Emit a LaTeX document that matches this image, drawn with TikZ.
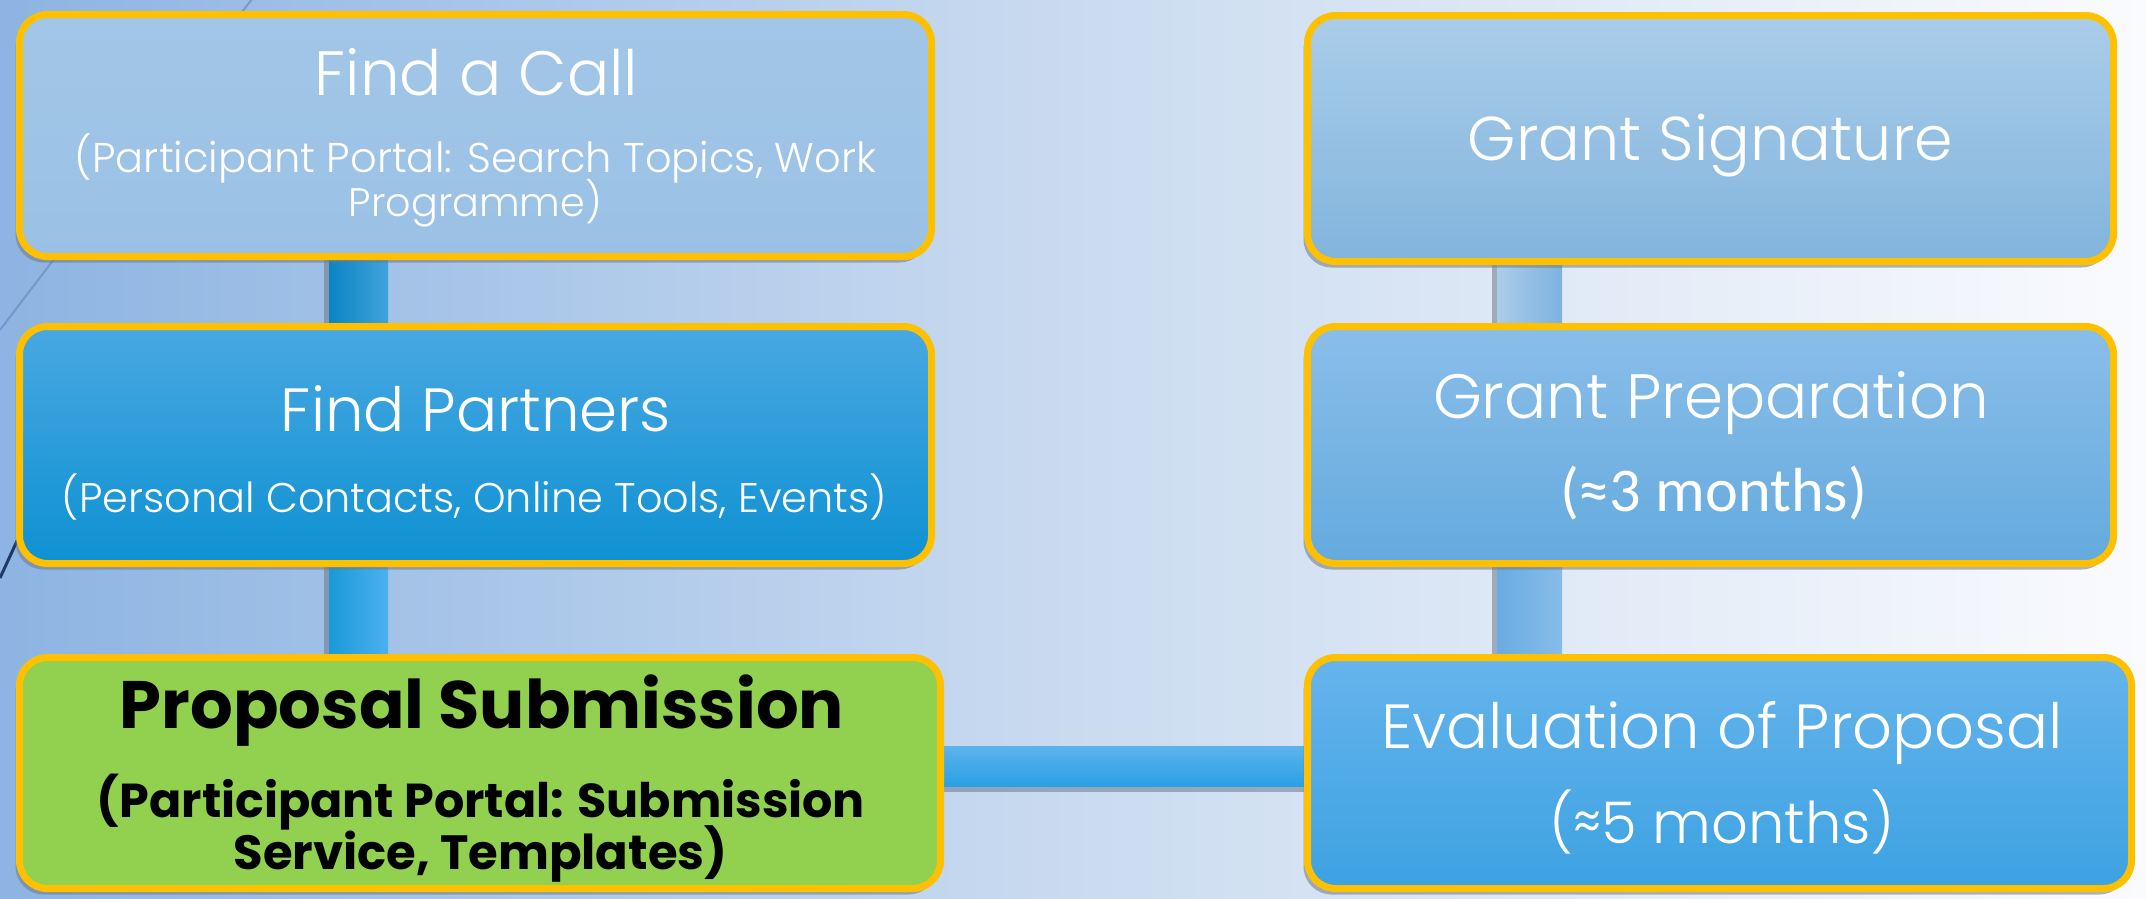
\documentclass[tikz,border=0pt]{standalone}
\usepackage{fontspec}
\usepackage{graphicx}
\setmainfont{Poppins Light}[BoldFont=Poppins Bold]
\newfontfamily\carl{Carlito}
\usetikzlibrary{shadows,calc}
\pgfdeclarelayer{bgfill}
\pgfdeclarelayer{bars}
\pgfsetlayers{bgfill,bars,main}
\definecolor{bgL}{RGB}{141,180,226}
\definecolor{bgM}{RGB}{202,219,240}
\definecolor{bgR}{RGB}{250,251,254}
\definecolor{gold}{RGB}{255,192,0}
\definecolor{shadowc}{RGB}{110,120,140}
\definecolor{decoA}{RGB}{105,140,190}
\definecolor{decoB}{RGB}{30,58,105}
\definecolor{bOneT}{RGB}{162,198,231}
\definecolor{bOneB}{RGB}{154,193,229}
\definecolor{bTwoT}{RGB}{72,168,226}
\definecolor{bTwoB}{RGB}{14,145,210}
\definecolor{bGreen}{RGB}{146,208,80}
\definecolor{rOneT}{RGB}{170,205,233}
\definecolor{rOneB}{RGB}{130,180,221}
\definecolor{rTwoT}{RGB}{138,190,233}
\definecolor{rTwoB}{RGB}{100,170,222}
\definecolor{rThrT}{RGB}{102,180,236}
\definecolor{rThrB}{RGB}{60,162,226}
\definecolor{lOneL}{RGB}{10,132,196}
\definecolor{lOneR}{RGB}{65,163,219}
\definecolor{lTwoL}{RGB}{25,154,217}
\definecolor{lTwoR}{RGB}{77,176,238}
\definecolor{rbOneL}{RGB}{170,205,233}
\definecolor{rbOneR}{RGB}{125,178,222}
\definecolor{rbTwoL}{RGB}{105,172,226}
\definecolor{rbTwoR}{RGB}{135,188,233}
\definecolor{hT}{RGB}{92,179,236}
\definecolor{hB}{RGB}{42,160,229}
\newcommand\fitw[2]{\resizebox{#1pt}{!}{#2}}
\tikzset{
  flowbox/.style={draw=gold, line width=7pt, rounded corners=28pt, inner sep=0pt,
    general shadow={fill=shadowc, shadow xshift=-4pt, shadow yshift=-6pt, opacity=.55}},
  bar/.style={general shadow={fill=shadowc, shadow xshift=-5pt, shadow yshift=-6pt, opacity=.55}},
  lbl/.style={anchor=base, inner sep=0pt, text=white, font=\fontsize{40}{48}\selectfont},
  blbl/.style={anchor=base, inner sep=0pt, text=black, font=\fontsize{40}{48}\selectfont\bfseries},
}
\begin{document}
\begin{tikzpicture}[x=1pt,y=-1pt]
\useasboundingbox (0,0) rectangle (2146,898);
\begin{pgfonlayer}{bgfill}
\fill[left color=bgL, right color=bgR, middle color=bgM] (0,0) rectangle (2146,898);
\draw[line width=2pt, color=decoA, opacity=.7] (255,-5) -- (0,330);
\draw[line width=3pt, color=decoB] (0,578) -- (45,480);
\end{pgfonlayer}

% boxes
\node[flowbox, minimum width=912, minimum height=242,
  top color=bOneT, bottom color=bOneB] (b1) at (475.5,135.5) {};
\node[flowbox, minimum width=912, minimum height=237,
  top color=bTwoT, bottom color=bTwoB] (b2) at (475.5,445) {};
\node[flowbox, minimum width=921, minimum height=231,
  fill=bGreen] (b3) at (480,773) {};
\node[flowbox, minimum width=806, minimum height=246,
  top color=rOneT, bottom color=rOneB] (r1) at (1710.5,138.5) {};
\node[flowbox, minimum width=806, minimum height=237,
  top color=rTwoT, bottom color=rTwoB] (r2) at (1710.5,445) {};
\node[flowbox, minimum width=824, minimum height=231,
  top color=rThrT, bottom color=rThrB] (r3) at (1719.5,773) {};

% connectors
\begin{pgfonlayer}{bars}
\path[bar, left color=lOneL, right color=lOneR]
  ($(b1.south west)+(313,-8)$) rectangle ($(b2.north west)+(372,8)$);
\path[bar, left color=lTwoL, right color=lTwoR]
  ($(b2.south west)+(313,-8)$) rectangle ($(b3.north west)+(372,8)$);
\path[bar, left color=rbOneL, right color=rbOneR]
  ($(r1.south west)+(193,-8)$) rectangle ($(r2.north west)+(258,8)$);
\path[bar, left color=rbTwoL, right color=rbTwoR]
  ($(r2.south west)+(193,-8)$) rectangle ($(r3.north west)+(258,8)$);
\path[bar, top color=hT, bottom color=hB]
  ($(b3.east)+(-8,-27)$) rectangle ($(r3.west)+(8,13)$);
\end{pgfonlayer}

% texts
\node[lbl] (t1a) at (476.5,95) {\fitw{323}{Find a Call}};
\node[lbl] (t1b) at (475.5,172) {\fitw{801}{(Participant Portal: Search Topics, Work}};
\node[lbl] (t1c) at (475.5,216) {\fitw{253}{Programme)}};
\node[lbl] (t2a) at (476,431) {\fitw{390}{Find Partners}};
\node[lbl] (t2b) at (474.5,512) {\fitw{825}{(Personal Contacts, Online Tools, Events)}};
\node[blbl] (t3a) at (482,728) {\fitw{724}{Proposal Submission}};
\node[blbl] (t3b) at (481,817) {\fitw{768}{(Participant Portal: Submission}};
\node[blbl] (t3c) at (480.5,869) {\fitw{494}{Service, Templates)}};
\node[lbl] (r1a) at (1710.5,160) {\fitw{485}{Grant Signature}};
\node[lbl] (r2a) at (1711,418) {\fitw{556}{Grant Preparation}};
\node[lbl] (r2b) at (1713.5,511) {\fitw{307}{\carl (≈3 months)}};
\node[lbl] (r3a) at (1722,748) {\fitw{682}{Evaluation of Proposal}};
\node[lbl] (r3b) at (1722,843) {\fitw{346}{(≈5 months)}};
\end{tikzpicture}
\end{document}
